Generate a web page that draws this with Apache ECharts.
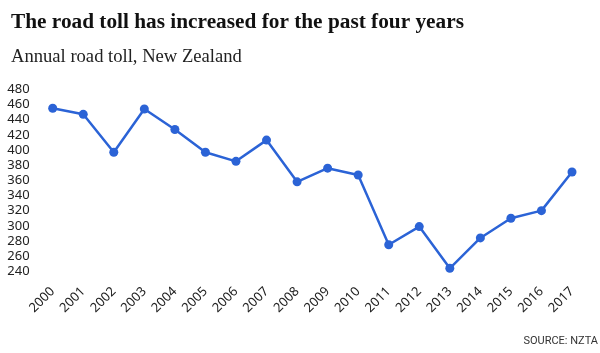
<!DOCTYPE html>
<html>
<head>
<meta charset="utf-8">
<script src="https://cdn.jsdelivr.net/npm/echarts@6/dist/echarts.min.js"></script>
<style>
  html, body { margin: 0; padding: 0; background: #fff; }
  #chart { width: 600px; height: 353px; }
</style>
</head>
<body>
<div id="chart"></div>
<script>
// annual road toll
var years = ['2000', '2001', '2002', '2003', '2004', '2005', '2006', '2007', '2008',
  '2009', '2010', '2011', '2012', '2013', '2014', '2015', '2016', '2017'];
var toll = [455, 447, 397, 454, 427, 397, 385, 413, 358, 376, 367, 275, 299, 244, 284, 310, 320, 371];

var chart = echarts.init(document.getElementById('chart'));

chart.setOption({
  animation: false,
  title: [{
    text: 'The road toll has increased for the past four years',
    left: 6,
    top: 7,
    textStyle: { fontFamily: 'Liberation Serif', fontWeight: 'bold', fontSize: 21.3, color: '#111' }
  }, {
    text: 'Annual road toll, New Zealand',
    left: 6,
    top: 43,
    textStyle: { fontFamily: 'Liberation Serif', fontWeight: 'normal', fontSize: 18.6, color: '#222' }
  }, {
    text: 'SOURCE: NZTA',
    right: 2,
    top: 336,
    padding: 0,
    textStyle: { fontFamily: 'Roboto', fontWeight: 'normal', fontSize: 11, color: '#333' }
  }],
  grid: {
    left: 52.7,
    right: 28,
    top: 89.3,
    bottom: 81.7
  },
  xAxis: {
    type: 'category',
    data: years,
    boundaryGap: false,
    axisLine: { show: false },
    axisTick: { show: false },
    splitLine: { show: false },
    axisLabel: {
      rotate: 45,
      margin: 18,
      fontFamily: 'Noto Sans',
      fontSize: 13,
      color: '#222'
    }
  },
  yAxis: {
    type: 'value',
    min: 240,
    max: 480,
    interval: 20,
    axisLine: { show: false },
    axisTick: { show: false },
    splitLine: { show: false },
    axisLabel: {
      align: 'left',
      margin: 45.4,
      fontFamily: 'Noto Sans',
      fontSize: 13,
      color: '#222'
    }
  },
  series: [{
    type: 'line',
    data: toll,
    symbol: 'circle',
    symbolSize: 9,
    itemStyle: { color: '#2b63d6' },
    lineStyle: { color: '#2b63d6', width: 2.5 }
  }]
});
</script>
</body>
</html>
